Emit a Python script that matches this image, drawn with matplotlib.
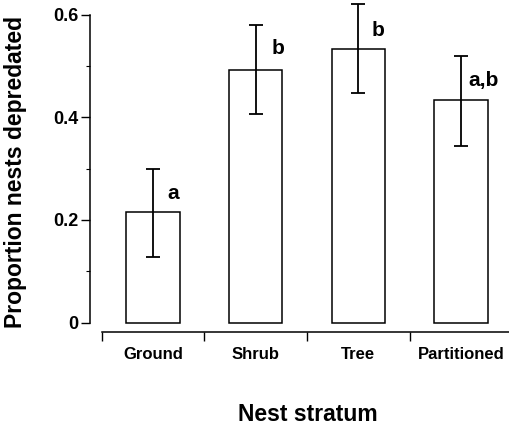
"""Bar chart of nest predation proportion by nest stratum."""
import matplotlib
matplotlib.use("Agg")
import matplotlib.pyplot as plt
import matplotlib.ticker as ticker

# --- Data ---
STRATA = ["Ground", "Shrub", "Tree", "Partitioned"]
PROPORTION = [0.215, 0.493, 0.533, 0.434]
ERR_LOW = [0.127, 0.406, 0.447, 0.345]
ERR_HIGH = [0.300, 0.580, 0.620, 0.519]
GROUP_LETTERS = ["a", "b", "b", "a,b"]
LETTER_Y = [0.252, 0.535, 0.570, 0.471]
LETTER_DX = [0.14, 0.15, 0.13, 0.07]

plt.rcParams["font.family"] = ["Liberation Sans", "DejaVu Sans"]
plt.rcParams["font.weight"] = "bold"

fig = plt.figure(figsize=(5.09, 4.25), dpi=100)
ax = fig.add_axes([90 / 509, 93 / 425, 1 - 90 / 509, 1 - 93 / 425])

x = list(range(len(STRATA)))
yerr = [
    [p - lo for p, lo in zip(PROPORTION, ERR_LOW)],
    [hi - p for p, hi in zip(PROPORTION, ERR_HIGH)],
]
ax.bar(x, PROPORTION, width=0.52, color="white", edgecolor="black",
       linewidth=1.1, zorder=2)
ax.errorbar(x, PROPORTION, yerr=yerr, fmt="none", ecolor="black",
            elinewidth=1.3, capsize=5, capthick=1.3, zorder=3)

for i, (lab, ly, dx) in enumerate(zip(GROUP_LETTERS, LETTER_Y, LETTER_DX)):
    ax.text(i + dx, ly, lab, ha="left", va="center", fontsize=15,
            fontweight="bold", color="black")

ax.set_xlim(-0.614, 3.467)
ax.set_ylim(-0.0185, 0.6287)

# y axis
ax.spines["left"].set_bounds(0, 0.6)
ax.spines["left"].set_linewidth(1.1)
ax.yaxis.set_major_locator(ticker.FixedLocator([0, 0.2, 0.4, 0.6]))
ax.yaxis.set_major_formatter(ticker.FixedFormatter(["0", "0.2", "0.4", "0.6"]))
ax.yaxis.set_minor_locator(ticker.FixedLocator([0.1, 0.3, 0.5]))
ax.tick_params(axis="y", which="major", direction="out", length=6.5,
               width=1.0, pad=2, labelsize=13)
ax.tick_params(axis="y", which="minor", direction="out", length=3, width=0.8)

# x axis: separators as major ticks, category labels on minor ticks
ax.spines["bottom"].set_bounds(-0.5, 3.5)
ax.spines["bottom"].set_linewidth(1.1)
ax.xaxis.set_major_locator(ticker.FixedLocator([-0.5, 0.5, 1.5, 2.5, 3.5]))
ax.xaxis.set_major_formatter(ticker.NullFormatter())
ax.xaxis.set_minor_locator(ticker.FixedLocator(x))
ax.xaxis.set_minor_formatter(ticker.FixedFormatter(STRATA))
ax.tick_params(axis="x", which="major", direction="out", length=6.5, width=1.0)
ax.tick_params(axis="x", which="minor", length=0, pad=11, labelsize=12)

ax.spines["top"].set_visible(False)
ax.spines["right"].set_visible(False)

ax.set_ylabel("Proportion nests depredated", fontsize=16.5, fontweight="bold")
ax.yaxis.set_label_coords(-0.150, 0.482)
ax.set_xlabel("Nest stratum", fontsize=16.5, fontweight="bold")
ax.xaxis.set_label_coords(0.520, -0.215)

fig.savefig("out.png", dpi=100, facecolor="white")
plt.close(fig)
